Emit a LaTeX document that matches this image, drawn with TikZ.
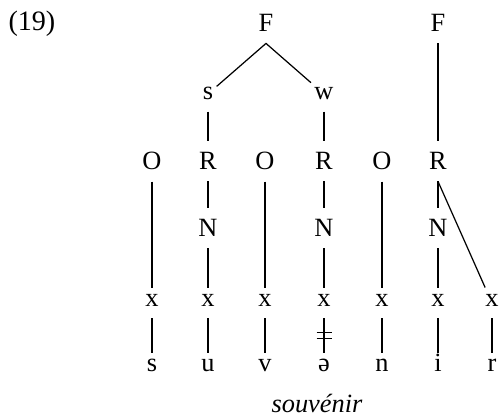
\documentclass[tikz,border=0pt]{standalone}
\usepackage{fontspec}
\setmainfont{Liberation Serif}
\usetikzlibrary{calc}

\begin{document}
\begin{tikzpicture}[
    every node/.style={font=\fontsize{15}{18}\selectfont, inner sep=0pt, outer xsep=2pt, outer ysep=6.5pt, anchor=base},
    lowrow/.style={text height=1ex, text depth=0pt},
    line width=0.7pt
]
    \useasboundingbox (0,0) rectangle (10.02,8.38);

    % Example number
    \node[anchor=base west, font=\fontsize{16}{19}\selectfont] (num) at (0.1,7.76) {(19)};

    % Feet
    \node (F1) at (5.32,7.74) {F};
    \node (F2) at (8.76,7.74) {F};

    % Strong and weak branches
    \node (s) at (4.16,6.38) {s};
    \node (w) at (6.48,6.38) {w};

    % Onsets and rhymes
    \node (O1) at (3.04,4.98) {O};
    \node (R1) at (4.16,4.98) {R};
    \node (O2) at (5.30,4.98) {O};
    \node (R2) at (6.48,4.98) {R};
    \node (O3) at (7.64,4.98) {O};
    \node (R3) at (8.76,4.98) {R};

    % Nuclei
    \node (N1) at (4.16,3.64) {N};
    \node (N2) at (6.48,3.64) {N};
    \node (N3) at (8.76,3.64) {N};

    % Skeleton and segments
    \foreach \i/\xpos/\seg in {1/3.04/s,2/4.16/u,3/5.30/v,4/6.48/ə,5/7.64/n,6/8.76/i,7/9.84/r} {
        \node[lowrow] (x\i) at (\xpos,2.24) {x};
        \node[lowrow] (seg\i) at (\xpos,0.94) {\seg};
        \draw (x\i) -- (seg\i);
    }

    % Word
    \node[font=\fontsize{15}{18}\selectfont\itshape] (word) at (6.34,0.12) {souv\'enir};

    % Foot structure
    \draw (s) -- (F1.south) -- (w);
    \draw (F2) -- (R3);
    \draw (s) -- (R1);
    \draw (w) -- (R2);

    % Onsets down to the skeleton
    \draw (O1) -- (x1);
    \draw (O2) -- (x3);
    \draw (O3) -- (x5);

    % Rhymes, nuclei, skeleton
    \draw (R1) -- (N1) -- (x2);
    \draw (R2) -- (N2) -- (x4);
    \draw (R3) -- (N3) -- (x6);
    \draw (R3.south) -- (x7);

    % Delinked schwa
    \coordinate (cut) at ($(x4.south)!0.5!(seg4.north)$);
    \draw ($(cut)+(-0.15,0.06)$) -- ($(cut)+(0.15,0.06)$);
    \draw ($(cut)+(-0.15,-0.06)$) -- ($(cut)+(0.15,-0.06)$);
\end{tikzpicture}
\end{document}
